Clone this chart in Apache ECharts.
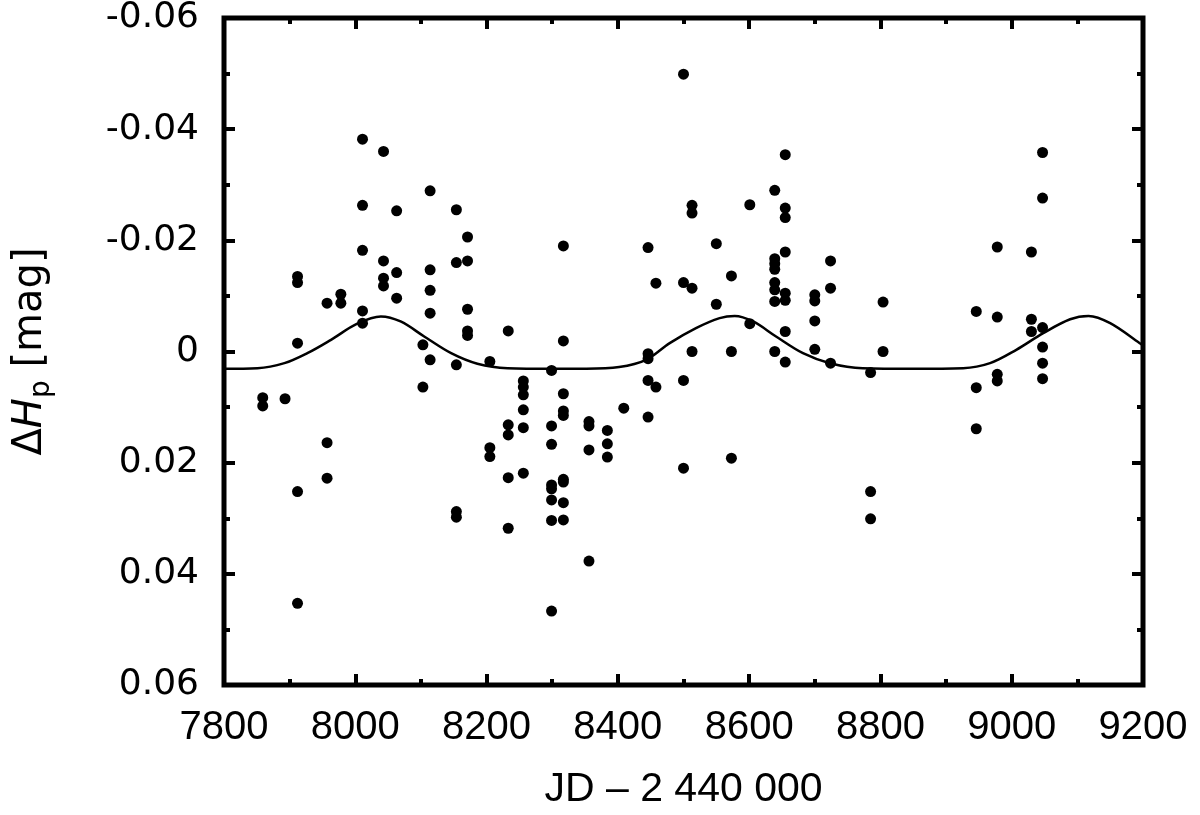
<!DOCTYPE html>
<html>
<head>
<meta charset="utf-8">
<script src="https://cdn.jsdelivr.net/npm/echarts@6/dist/echarts.min.js"></script>
<style>
html,body{margin:0;padding:0;background:#fff;}
#chart{width:1200px;height:815px;}
</style>
</head>
<body>
<div id="chart"></div>
<script>
// Observations: JD - 2440000 and magnitude difference
const obsJD = [
  7859, 7859,
  7893,
  7912, 7912, 7912, 7912, 7912,
  7957, 7957, 7957,
  7978, 7978,
  8011, 8011, 8011, 8011, 8011,
  8043, 8043, 8043, 8043,
  8063, 8063, 8063,
  8103, 8103,
  8114, 8114, 8114, 8114, 8114,
  8154, 8154, 8154, 8154, 8154,
  8171, 8171, 8171, 8171, 8171,
  8205, 8205, 8205,
  8233, 8233, 8233, 8233, 8233,
  8256, 8256, 8256, 8256, 8256, 8256,
  8299, 8299, 8299, 8299, 8299, 8299, 8299, 8299,
  8317, 8317, 8317, 8317, 8317, 8317, 8317, 8317, 8317,
  8356, 8356, 8356, 8356,
  8384, 8384, 8384,
  8409,
  8446, 8446, 8446, 8446, 8446,
  8458, 8458,
  8500, 8500, 8500, 8500,
  8513, 8513, 8513, 8513,
  8550, 8550,
  8573, 8573, 8573,
  8601, 8601,
  8639, 8639, 8639, 8639, 8639, 8639, 8639, 8639,
  8655, 8655, 8655, 8655, 8655, 8655, 8655, 8655,
  8700, 8700, 8700, 8700,
  8724, 8724, 8724,
  8785, 8785, 8785,
  8804, 8804,
  8946, 8946, 8946,
  8978, 8978, 8978, 8978,
  9030, 9030, 9030,
  9047, 9047, 9047, 9047, 9047, 9047
];
const obsDHp = [
  0.0083, 0.0098,
  0.0085,
  -0.0135, -0.0124, -0.0015, 0.0252, 0.0453,
  -0.0087, 0.0164, 0.0228,
  -0.0103, -0.0087,
  -0.0382, -0.0263, -0.0182, -0.0073, -0.0051,
  -0.0360, -0.0163, -0.0132, -0.0118,
  -0.0253, -0.0142, -0.0096,
  -0.0012, 0.0064,
  -0.0289, -0.0147, -0.0110, -0.0069, 0.0015,
  -0.0255, -0.0160, 0.0024, 0.0288, 0.0298,
  -0.0206, -0.0163, -0.0076, -0.0037, -0.0029,
  0.0018, 0.0173, 0.0189,
  -0.0037, 0.0132, 0.0150, 0.0227, 0.0318,
  0.0053, 0.0064, 0.0078, 0.0105, 0.0137, 0.0219,
  0.0034, 0.0134, 0.0167, 0.0240, 0.0247, 0.0267, 0.0304, 0.0467,
  -0.0190, -0.0019, 0.0076, 0.0107, 0.0115, 0.0230, 0.0235, 0.0272, 0.0303,
  0.0126, 0.0134, 0.0177, 0.0377,
  0.0142, 0.0166, 0.0190,
  0.0102,
  -0.0187, 0.0004, 0.0013, 0.0052, 0.0118,
  -0.0123, 0.0064,
  -0.0499, -0.0124, 0.0052, 0.0210,
  -0.0263, -0.0249, -0.0114, 0.0000,
  -0.0194, -0.0085,
  -0.0136, 0.0000, 0.0192,
  -0.0264, -0.0050,
  -0.0290, -0.0167, -0.0158, -0.0148, -0.0124, -0.0111, -0.0090, 0.0000,
  -0.0354, -0.0258, -0.0241, -0.0179, -0.0105, -0.0092, -0.0036, 0.0019,
  -0.0102, -0.0091, -0.0055, -0.0004,
  -0.0163, -0.0114, 0.0021,
  0.0038, 0.0252, 0.0301,
  -0.0089, 0.0000,
  -0.0072, 0.0065, 0.0139,
  -0.0188, -0.0062, 0.0041, 0.0053,
  -0.0179, -0.0058, -0.0036,
  -0.0358, -0.0276, -0.0043, -0.0008, 0.0021, 0.0049
];
// Model curve
const modelJD = [7800, 7851, 7892, 7927, 7963, 8003, 8039, 8069, 8105, 8146, 8186, 8232,
  8300, 8352, 8402, 8443, 8479, 8519, 8555, 8578, 8606, 8641, 8682, 8723, 8773,
  8850, 8926, 8967, 9007, 9048, 9089, 9117, 9150, 9195, 9200];
const modelDHp = [0.0031, 0.0030, 0.0021, 0.0003, -0.0021, -0.0050, -0.0063, -0.0054, -0.0027, 0.0003, 0.0022, 0.0030,
  0.0031, 0.0031, 0.0028, 0.0015, -0.0015, -0.0042, -0.0060, -0.0064, -0.0054, -0.0027, 0.0003, 0.0021, 0.0030,
  0.0031, 0.0030, 0.0021, -0.0003, -0.0033, -0.0058, -0.0064, -0.0051, -0.0015, -0.0011];

const xRange = [7800, 9200];
const yRange = [-0.06, 0.06];
const xStep = 200;
const yStep = 0.02;
const xTitle = 'JD \u2013 2 440 000';
const yTitle = '{d|\u0394}{i|H}{s|p}{d| [mag]}';

const chart = echarts.init(document.getElementById('chart'), null, {renderer: 'canvas'});

const tickStyle = {inside: true, length: 11, lineStyle: {color: '#000', width: 4}};
const minorStyle = {show: true, splitNumber: 2, length: 6, lineStyle: {color: '#000', width: 4}};
const hiddenLine = {show: false, onZero: false};

function yFmt(v) {
  if (Math.abs(v) < 1e-9) return '0';
  return v.toFixed(2);
}
function xFmt(v) {
  return String(Math.round(v));
}

const option = {
  animation: false,
  backgroundColor: '#fff',
  grid: {left: 224, right: 57, top: 18, bottom: 125, show: true, borderWidth: 5, borderColor: '#000', backgroundColor: 'transparent'},
  xAxis: [
    {
      type: 'value', position: 'bottom', min: xRange[0], max: xRange[1], interval: xStep,
      axisLine: hiddenLine, axisTick: tickStyle, minorTick: minorStyle, splitLine: {show: false},
      axisLabel: {color: '#000', fontFamily: 'Liberation Sans', fontSize: 40, margin: 23, formatter: xFmt},
      name: xTitle, nameLocation: 'middle', nameGap: 84,
      nameTextStyle: {color: '#000', fontFamily: 'Liberation Sans', fontSize: 41}
    },
    {
      type: 'value', position: 'top', min: xRange[0], max: xRange[1], interval: xStep,
      axisLine: hiddenLine, axisTick: tickStyle, minorTick: minorStyle, splitLine: {show: false},
      axisLabel: {show: false}
    }
  ],
  yAxis: [
    {
      type: 'value', position: 'left', inverse: true, min: yRange[0], max: yRange[1], interval: yStep,
      axisLine: hiddenLine, axisTick: tickStyle, minorTick: minorStyle, splitLine: {show: false},
      axisLabel: {color: '#000', fontFamily: 'DejaVu Sans', fontSize: 36, margin: 25, formatter: yFmt},
      name: yTitle, nameLocation: 'middle', nameGap: 168, nameRotate: 90,
      nameTextStyle: {
        color: '#000', fontFamily: 'DejaVu Sans', fontSize: 40,
        rich: {
          d: {color: '#000', fontFamily: 'DejaVu Sans', fontSize: 40},
          i: {color: '#000', fontFamily: 'DejaVu Sans', fontSize: 40, fontStyle: 'italic'},
          s: {color: '#000', fontFamily: 'DejaVu Sans', fontSize: 28, padding: [23, 0, 0, 0]}
        }
      }
    },
    {
      type: 'value', position: 'right', inverse: true, min: yRange[0], max: yRange[1], interval: yStep,
      axisLine: hiddenLine, axisTick: tickStyle, minorTick: minorStyle, splitLine: {show: false},
      axisLabel: {show: false}
    }
  ],
  series: [
    {
      type: 'line', xAxisIndex: 0, yAxisIndex: 0,
      data: modelJD.map((x, i) => [x, modelDHp[i]]),
      showSymbol: false, smooth: 0.35, clip: true,
      lineStyle: {color: '#000', width: 2.5}, z: 2
    },
    {
      type: 'scatter', xAxisIndex: 0, yAxisIndex: 0,
      data: obsJD.map((x, i) => [x, obsDHp[i]]),
      symbol: 'circle', symbolSize: 11,
      itemStyle: {color: '#000', opacity: 1}, z: 3
    }
  ]
};
chart.setOption(option);
</script>
</body>
</html>
